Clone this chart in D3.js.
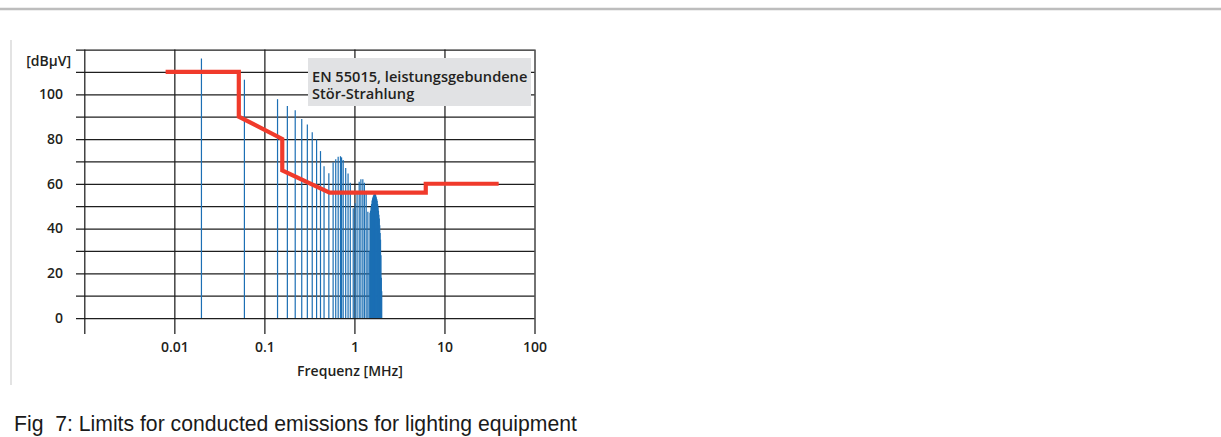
<!DOCTYPE html>
<html>
<head>
<meta charset="utf-8">
<script src="https://cdn.jsdelivr.net/npm/d3@7"></script>
<style>
  html, body { margin: 0; padding: 0; background: #fff; }
  svg { display: block; }
  .lbl { font-family: "Open Sans", "DejaVu Sans", sans-serif; font-weight: 600; font-size: 14px; fill: #231f20; }
  .note { font-family: "Open Sans", "DejaVu Sans", sans-serif; font-weight: 600; font-size: 14.6px; fill: #231f20; }
  .cap { font-family: "Liberation Sans", Arial, sans-serif; font-size: 21.2px; fill: #1a1a1a; white-space: pre; }
</style>
</head>
<body>
<svg id="chart" width="1221" height="437"></svg>
<script>
// Measured interference spectrum: line frequencies (MHz) and levels (dBµV)
const lineFreqs = [
  0.02, 0.06, 0.14, 0.18, 0.22, 0.26, 0.30, 0.34, 0.38, 0.42, 0.46, 0.52,
  0.58, 0.62, 0.66, 0.70, 0.72, 0.75, 0.80, 0.85, 0.90, 0.97,
  1.02, 1.07, 1.13, 1.18, 1.24, 1.29, 1.35, 1.41, 1.46,
  1.49, 1.51, 1.53, 1.55, 1.57, 1.59, 1.61, 1.63, 1.65, 1.67, 1.69, 1.71,
  1.73, 1.75, 1.77, 1.79, 1.81, 1.83, 1.85, 1.87, 1.89, 1.91, 1.93, 1.95,
  1.97, 1.99, 2.01
];
const lineLevels = [
  116, 106.5, 97.8, 94.8, 92.8, 88.9, 86.5, 83, 79.8, 74.6, 67.8, 64.7,
  69.6, 71, 72.1, 72.3, 71.8, 70.6, 67, 64.6, 60.5, 49,
  51.3, 55.7, 60.9, 62, 62, 60.5, 55.7, 47.5, 30,
  47, 48, 49.5, 51, 52.5, 53.5, 54.2, 54.8, 55.2, 55.4, 55.5, 55.3,
  54.8, 54, 53.2, 52.4, 51, 49.5, 48, 46.2, 44.5, 41.5, 38, 35,
  28, 18, 12
];

// EN 55015 limit curve
const limitFreqs = [0.008, 0.052, 0.052, 0.158, 0.158, 0.53, 6.2, 6.2, 40];
const limitLevels = [110, 110, 90, 80, 66, 56, 56, 60, 60];

// Axis ticks
const xGridValues = [0.001, 0.01, 0.1, 1, 10, 100];
const xTickValues = [0.01, 0.1, 1, 10, 100];
const xTickLabels = ["0.01", "0.1", "1", "10", "100"];
const yGridValues = [0, 10, 20, 30, 40, 50, 60, 70, 80, 90, 100, 110, 120];
const yTickValues = [0, 20, 40, 60, 80, 100];
const yTickLabels = ["0", "20", "40", "60", "80", "100"];

const noteLines = ["EN 55015, leistungsgebundene", "Stör-Strahlung"];

const svg = d3.select("#chart");

// page rules
svg.append("line").attr("x1", 0).attr("x2", 1221).attr("y1", 9).attr("y2", 9)
  .attr("stroke", "#bdbdbd").attr("stroke-width", 2.4);
svg.append("line").attr("x1", 11).attr("x2", 11).attr("y1", 40).attr("y2", 385)
  .attr("stroke", "#e3e3e3").attr("stroke-width", 2);

const x = d3.scaleLog().domain([0.001, 100]).range([84.3, 534.5]);
const y = d3.scaleLinear().domain([0, 120]).range([318, 49.5]);

const gridLeft = 76;
const gridBottom = 334;

// horizontal grid (ticks reach out to the left)
const gy = svg.append("g").attr("transform", `translate(${gridLeft},0)`)
  .call(d3.axisLeft(y).tickValues(yGridValues).tickSize(-(x(100) - gridLeft)).tickFormat(""));
gy.select(".domain").remove();
gy.selectAll(".tick line").attr("stroke", "#1e1e1e").attr("stroke-width", 1.25);

// vertical grid (ticks reach below the zero line)
const gx = svg.append("g").attr("transform", `translate(0,${gridBottom})`)
  .call(d3.axisBottom(x).tickValues(xGridValues).tickSize(-(gridBottom - y(120))).tickFormat(""));
gx.select(".domain").remove();
gx.selectAll(".tick line").attr("stroke", "#1e1e1e").attr("stroke-width", 1.25);

// tick labels
const ly = svg.append("g").attr("transform", "translate(63,0)")
  .call(d3.axisLeft(y).tickValues(yTickValues).tickSize(0).tickPadding(0)
    .tickFormat((d, i) => yTickLabels[i]));
ly.select(".domain").remove();
ly.selectAll("text").attr("class", "lbl");

const lx = svg.append("g").attr("transform", "translate(0,339)")
  .call(d3.axisBottom(x).tickValues(xTickValues).tickSize(0).tickPadding(3)
    .tickFormat((d, i) => xTickLabels[i]));
lx.select(".domain").remove();
lx.selectAll("text").attr("class", "lbl");

svg.append("text").attr("class", "lbl").attr("x", 71).attr("y", 66)
  .attr("text-anchor", "end").text("[dBµV]");
svg.append("text").attr("class", "lbl").attr("x", 350).attr("y", 376)
  .attr("text-anchor", "middle").text("Frequenz [MHz]");

// spectral lines
const spec = lineFreqs.map((f, i) => ({ f, v: lineLevels[i] }));
svg.append("g").selectAll("line").data(spec).join("line")
  .attr("x1", d => x(d.f)).attr("x2", d => x(d.f))
  .attr("y1", y(0)).attr("y2", d => y(d.v))
  .attr("stroke", "#1c6fb4").attr("stroke-width", 1.2);

// limit curve
const limit = limitFreqs.map((f, i) => ({ f, v: limitLevels[i] }));
svg.append("path").datum(limit)
  .attr("d", d3.line().x(d => x(d.f)).y(d => y(d.v)))
  .attr("fill", "none").attr("stroke", "#f03a2b").attr("stroke-width", 4.2)
  .attr("stroke-linejoin", "miter");

// annotation box with a two-line note
svg.append("rect").attr("x", 308).attr("y", 58).attr("width", 223).attr("height", 48)
  .attr("fill", "#e1e2e4");
svg.append("text").attr("class", "note").attr("x", 312).attr("y", 81.5)
  .selectAll("tspan").data(noteLines).join("tspan")
  .attr("x", 312).attr("dy", (d, i) => i === 0 ? 0 : 17)
  .text(d => d);

// caption
svg.append("text").attr("class", "cap").attr("x", 14).attr("y", 431)
  .text("Fig  7: Limits for conducted emissions for lighting equipment");
</script>
</body>
</html>
